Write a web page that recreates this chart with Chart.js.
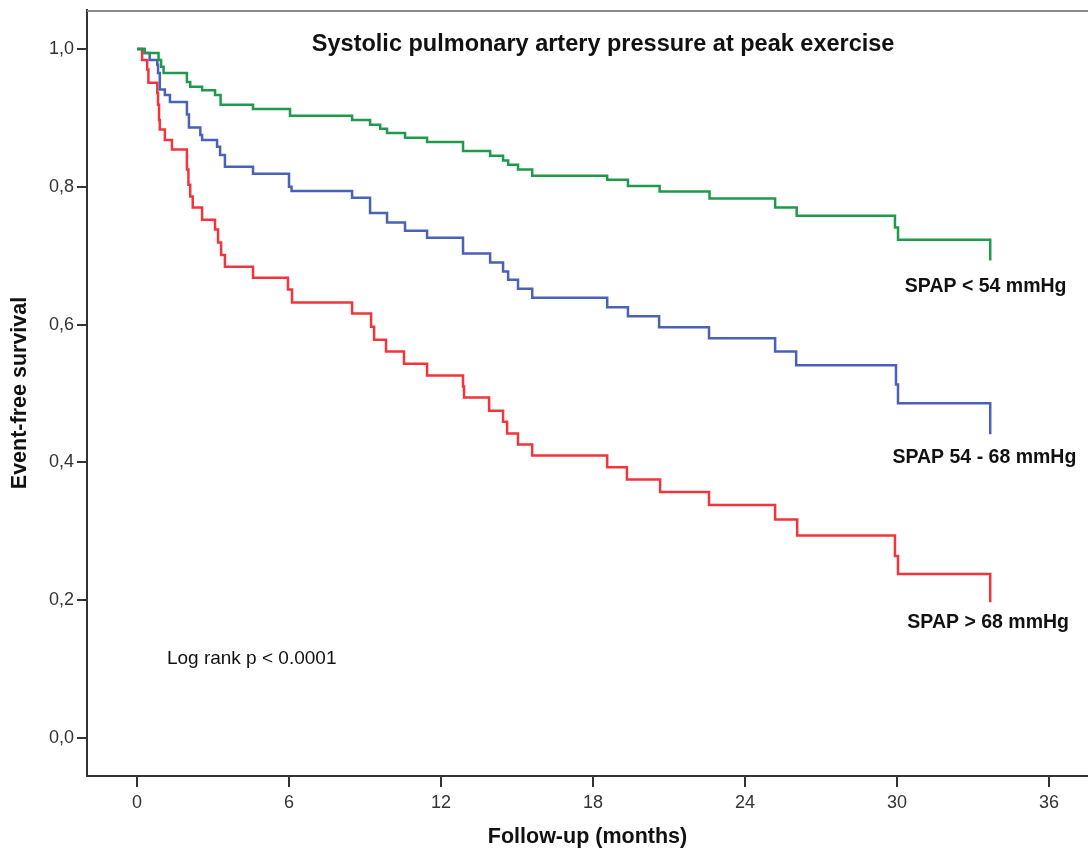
<!DOCTYPE html>
<html lang="en">
<head>
  <meta charset="UTF-8">
  <title>Systolic pulmonary artery pressure at peak exercise</title>
  <style>
    body {
      margin: 0;
      padding: 0;
      background-color: #fff;
    }

    #chart-container {
      width: 1088px;
      height: 854px;
    }
  </style>
  <script src="https://cdn.jsdelivr.net/npm/chart.js"></script>
</head>
<body>
  <div id="chart-container">
    <canvas id="kmChart" width="1088" height="854"></canvas>
  </div>

  <script>
    // Kaplan-Meier steps: month of event, survival after it
    const lowMonths = [0, 0.3, 0.85, 0.95, 1.05, 1.97, 2.1, 2.57, 3.08, 3.3, 4.58, 6.04, 8.49, 9.2, 9.6, 9.87, 10.58, 11.45, 12.87, 13.94, 14.45, 14.65, 15.04, 15.6, 18.56, 19.38, 20.63, 22.6, 25.19, 26.04, 29.92, 30.04, 33.68];
    const lowSurv = [1.0, 0.994, 0.984, 0.974, 0.965, 0.952, 0.945, 0.94, 0.933, 0.919, 0.913, 0.903, 0.897, 0.89, 0.884, 0.878, 0.871, 0.865, 0.852, 0.845, 0.838, 0.832, 0.825, 0.816, 0.81, 0.801, 0.793, 0.783, 0.77, 0.758, 0.741, 0.723, 0.693];

    const midMonths = [0, 0.3, 0.5, 0.8, 0.83, 0.9, 1.1, 1.3, 1.97, 2.05, 2.5, 2.57, 3.16, 3.28, 3.47, 4.58, 6.0, 6.1, 8.49, 9.2, 9.87, 10.58, 11.45, 12.87, 13.94, 14.45, 14.65, 15.04, 15.6, 18.56, 19.38, 20.61, 22.58, 25.19, 26.02, 29.96, 30.04, 33.68];
    const midSurv = [1.0, 0.994, 0.984, 0.977, 0.965, 0.941, 0.933, 0.923, 0.905, 0.886, 0.875, 0.868, 0.858, 0.846, 0.829, 0.819, 0.8, 0.794, 0.784, 0.762, 0.748, 0.736, 0.726, 0.703, 0.69, 0.677, 0.665, 0.652, 0.639, 0.625, 0.612, 0.596, 0.58, 0.561, 0.541, 0.513, 0.486, 0.441];

    const highMonths = [0, 0.2, 0.4, 0.45, 0.8, 0.83, 0.87, 0.9, 1.1, 1.38, 1.97, 2.03, 2.1, 2.2, 2.57, 3.08, 3.2, 3.32, 3.47, 4.58, 5.96, 6.12, 8.49, 9.24, 9.36, 9.83, 10.54, 11.45, 12.87, 12.91, 13.9, 14.45, 14.61, 15.04, 15.6, 18.56, 19.34, 20.65, 22.58, 25.19, 26.06, 29.92, 30.04, 33.68];
    const highSurv = [1.0, 0.984, 0.97, 0.951, 0.936, 0.919, 0.897, 0.883, 0.868, 0.854, 0.825, 0.803, 0.786, 0.77, 0.752, 0.738, 0.719, 0.701, 0.684, 0.668, 0.651, 0.632, 0.616, 0.597, 0.578, 0.561, 0.543, 0.526, 0.51, 0.494, 0.475, 0.459, 0.442, 0.426, 0.41, 0.393, 0.375, 0.357, 0.338, 0.317, 0.294, 0.264, 0.238, 0.197];

    const groupNames = ['SPAP < 54 mmHg', 'SPAP 54 - 68 mmHg', 'SPAP > 68 mmHg'];
    const xTicks = [0, 6, 12, 18, 24, 30, 36];
    const yTicks = [0, 0.2, 0.4, 0.6, 0.8, 1.0];

    const toPoints = (months, surv) => months.map((m, i) => ({ x: m, y: surv[i] }));

    // Texts placed in data units, drawn through the scales
    const notes = [
      { text: 'Systolic pulmonary artery pressure at peak exercise', x: 18.4, y: 1.007, font: 'bold 23.5px "Liberation Sans"', align: 'center' },
      { text: groupNames[0], x: 33.5, y: 0.655, font: 'bold 19.5px "Liberation Sans"', align: 'center' },
      { text: groupNames[1], x: 33.45, y: 0.407, font: 'bold 19.5px "Liberation Sans"', align: 'center' },
      { text: groupNames[2], x: 33.6, y: 0.168, font: 'bold 19.5px "Liberation Sans"', align: 'center' },
      { text: 'Log rank p < 0.0001', x: 1.18, y: 0.1145, font: '19px "Liberation Sans"', align: 'left' }
    ];

    const notesPlugin = {
      id: 'notes',
      afterDraw(chart) {
        const { ctx, chartArea, scales } = chart;
        ctx.save();
        // top frame line
        ctx.strokeStyle = '#8a8a8a';
        ctx.lineWidth = 2;
        ctx.beginPath();
        ctx.moveTo(chartArea.left, chartArea.top + 1);
        ctx.lineTo(chartArea.right, chartArea.top + 1);
        ctx.stroke();

        ctx.fillStyle = '#111';
        ctx.textBaseline = 'middle';
        notes.forEach((n) => {
          ctx.font = n.font;
          ctx.textAlign = n.align;
          ctx.fillText(n.text, scales.x.getPixelForValue(n.x), scales.y.getPixelForValue(n.y));
        });
        ctx.restore();
      }
    };

    const ctx = document.getElementById('kmChart').getContext('2d');
    const kmChart = new Chart(ctx, {
      type: 'line',
      data: {
        datasets: [
          { label: groupNames[0], data: toPoints(lowMonths, lowSurv), borderColor: '#1f9a4c' },
          { label: groupNames[1], data: toPoints(midMonths, midSurv), borderColor: '#4961b6' },
          { label: groupNames[2], data: toPoints(highMonths, highSurv), borderColor: '#f0353d' }
        ]
      },
      options: {
        responsive: false,
        animation: false,
        layout: { padding: { top: 10, right: 0, bottom: 0, left: 0 } },
        elements: {
          line: { stepped: true, borderWidth: 2.5, fill: false },
          point: { radius: 0 }
        },
        plugins: {
          legend: { display: false },
          tooltip: { enabled: false }
        },
        scales: {
          x: {
            type: 'linear',
            min: -1.974,
            max: 37.54,
            afterBuildTicks: (scale) => { scale.ticks = xTicks.map((v) => ({ value: v })); },
            afterFit: (scale) => { scale.height = 78; scale.paddingLeft = 0; scale.paddingRight = 0; },
            grid: { drawOnChartArea: false, drawTicks: true, tickLength: 11, color: '#333', lineWidth: 2 },
            border: { display: true, color: '#333', width: 2 },
            ticks: { color: '#333', padding: 5, font: { family: 'Liberation Sans', size: 18 } },
            title: { display: true, text: 'Follow-up (months)', color: '#111', padding: { top: 0, bottom: 4 }, font: { family: 'Liberation Sans', size: 21.5, weight: 'bold' } }
          },
          y: {
            type: 'linear',
            min: -0.0551,
            max: 1.0565,
            afterBuildTicks: (scale) => { scale.ticks = yTicks.map((v) => ({ value: v })); },
            afterFit: (scale) => { scale.width = 87; scale.paddingTop = 0; scale.paddingBottom = 0; },
            grid: { drawOnChartArea: false, drawTicks: true, tickLength: 10, color: '#333', lineWidth: 2 },
            border: { display: true, color: '#333', width: 2 },
            ticks: { color: '#333', padding: 3, font: { family: 'Liberation Sans', size: 18 }, callback: (v) => v.toFixed(1).replace('.', ',') },
            title: { display: true, text: 'Event-free survival', color: '#111', padding: { top: 7, bottom: 0 }, font: { family: 'Liberation Sans', size: 21.5, weight: 'bold' } }
          }
        }
      },
      plugins: [notesPlugin]
    });
  </script>
</body>
</html>
